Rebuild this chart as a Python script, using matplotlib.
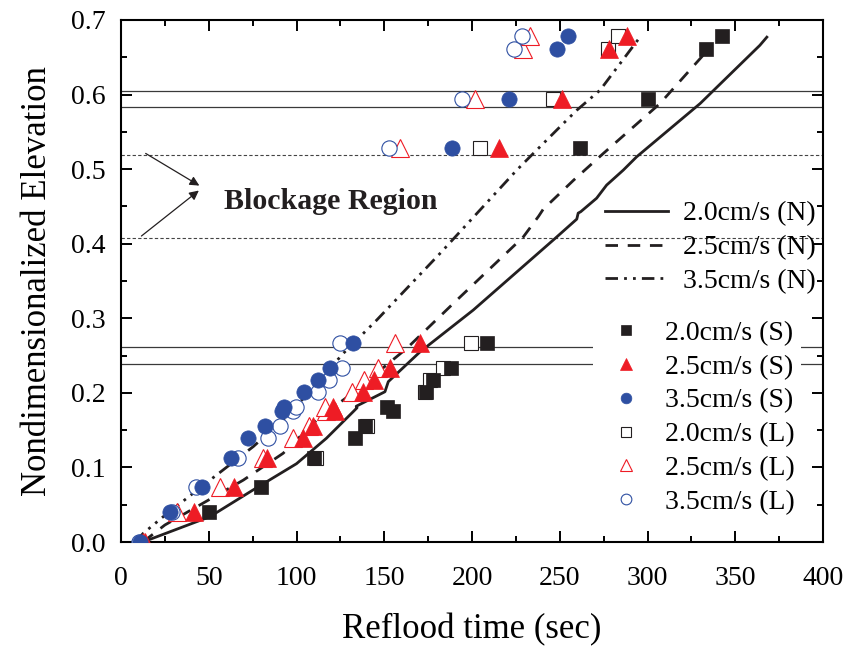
import matplotlib
matplotlib.use("Agg")
import matplotlib.pyplot as plt
from matplotlib.ticker import MultipleLocator

plt.rcParams['font.family'] = ['Liberation Serif', 'DejaVu Serif']
plt.rcParams['mathtext.fontset'] = 'stix'

# ---------------- data ----------------
# calculated curves (N)
n20_t = [12.5, 50.7, 75.4, 100, 117, 132.4, 134.5, 134.0, 150.4, 152.3, 170.4, 200.7, 247.3, 259.7, 260.5, 262.0, 271, 276.7, 286.2, 293.8, 330, 364, 368]
n20_y = [0.0, 0.034, 0.070, 0.105, 0.139, 0.175, 0.180, 0.182, 0.2015, 0.215, 0.255, 0.311, 0.407, 0.433, 0.441, 0.443, 0.461, 0.4786, 0.4987, 0.5165, 0.588, 0.666, 0.677]

n25_t = [12.5, 25, 69.7, 92.4, 113.4, 130.5, 162.8, 189.4, 229.2, 238.0, 240.5, 257.8, 274.8, 307.1, 331.8, 334]
n25_y = [0.0, 0.0228, 0.083, 0.119, 0.168, 0.197, 0.2596, 0.32, 0.409, 0.437, 0.446, 0.485, 0.521, 0.588, 0.653, 0.665]

n35_t = [8.0, 12.7, 24.1, 50.7, 75.4, 96.3, 126.7, 145.7, 181.8, 225.5, 233, 250.1, 259.7, 273, 295.7]
n35_y = [0.0, 0.0117, 0.034, 0.083, 0.128, 0.1725, 0.253, 0.2976, 0.387, 0.4987, 0.5165, 0.5567, 0.579, 0.606, 0.677]

# measurements
s20_t = [50.3, 79.8, 110, 133.3, 139, 154.8, 151.4, 173.6, 177.6, 187.9, 208.7, 261.5, 300.1, 333.2, 342.6]
s20_y = [0.040, 0.074, 0.112, 0.140, 0.156, 0.176, 0.181, 0.201, 0.217, 0.234, 0.267, 0.528, 0.594, 0.661, 0.679]

s25_t = [13.7, 41.6, 64.6, 83, 103.9, 109.2, 122.0, 121.0, 138, 144.3, 153.3, 170.4, 215.6, 251.1, 278.2, 288.1]
s25_y = [0.0, 0.040, 0.074, 0.112, 0.140, 0.156, 0.176, 0.181, 0.201, 0.217, 0.234, 0.267, 0.528, 0.594, 0.661, 0.679]

s35_t = [10.8, 27.9, 46, 62.7, 72.5, 82, 91.5, 93.1, 104.5, 112.1, 119.1, 132.4, 188.4, 221.3, 248.4, 254.9]
s35_y = [0.0, 0.040, 0.074, 0.112, 0.140, 0.156, 0.176, 0.181, 0.201, 0.217, 0.234, 0.267, 0.528, 0.594, 0.661, 0.679]

l20_t = [111.2, 140.2, 173.2, 176.1, 183.3, 199.4, 204.6, 246.3, 277.7, 283.4]
l20_y = [0.112, 0.156, 0.201, 0.217, 0.234, 0.267, 0.528, 0.594, 0.661, 0.679]

l25_t = [12.5, 31.7, 56.4, 81, 98.2, 107, 117, 116, 131.4, 138.7, 146.2, 156.1, 159, 201.7, 228.9, 233]
l25_y = [0.0, 0.040, 0.074, 0.112, 0.140, 0.156, 0.176, 0.181, 0.201, 0.217, 0.234, 0.267, 0.528, 0.594, 0.661, 0.679]

l35_t = [10.0, 28.9, 42.7, 66.9, 83.6, 90.6, 98.2, 99.7, 112, 118.7, 125.7, 124.8, 152.7, 194.1, 224, 228.7]
l35_y = [0.0, 0.040, 0.074, 0.112, 0.140, 0.156, 0.176, 0.181, 0.201, 0.217, 0.234, 0.267, 0.528, 0.594, 0.661, 0.679]

solid_levels = [0.605, 0.583, 0.261, 0.239]
dashed_levels = [0.519, 0.408]

# ---------------- figure ----------------
fig = plt.figure(figsize=(8.54, 6.47), dpi=100)
ax = fig.add_axes([121/854, 1-542/647, (823-121)/854, (542-20)/647])

for lv in solid_levels:
    ax.axhline(lv, color='#3a3a3a', lw=0.9, zorder=1)
for lv in dashed_levels:
    ax.axhline(lv, color='#444444', lw=0.8, ls=(0, (3, 2)), zorder=1)

BLACK = '#231f20'
RED = '#ee1c25'
BLUE = '#2e4fa2'

l1, = ax.plot(n20_t, n20_y, color=BLACK, lw=2.0, zorder=3, label='2.0cm/s (N)')
l2, = ax.plot(n25_t, n25_y, color=BLACK, lw=2.0, dashes=(4.5, 3.5), zorder=3, label='2.5cm/s (N)')
l3, = ax.plot(n35_t, n35_y, color=BLACK, lw=2.0, dashes=(4.5, 2.2, 1, 2.2, 1, 2.2), zorder=3, label='3.5cm/s (N)')

ms = 10.5
p4, = ax.plot(l20_t, l20_y, ls='none', marker='s', ms=ms, mfc='white', mec=BLACK, mew=0.8, zorder=4, label='2.0cm/s (L)')
p5, = ax.plot(l25_t, l25_y, ls='none', marker='^', ms=ms+2, mfc='white', mec=RED, mew=0.8, zorder=4, label='2.5cm/s (L)')
p6, = ax.plot(l35_t, l35_y, ls='none', marker='o', ms=ms+0.5, mfc='white', mec=BLUE, mew=0.8, zorder=4, label='3.5cm/s (L)')
p1, = ax.plot(s20_t, s20_y, ls='none', marker='s', ms=ms, mfc=BLACK, mec=BLACK, mew=0.5, zorder=5, label='2.0cm/s (S)')
p2, = ax.plot(s25_t, s25_y, ls='none', marker='^', ms=ms+2, mfc=RED, mec=RED, mew=0.5, zorder=5, label='2.5cm/s (S)')
p3, = ax.plot(s35_t, s35_y, ls='none', marker='o', ms=ms+0.5, mfc=BLUE, mec=BLUE, mew=0.5, zorder=5, label='3.5cm/s (S)')

ax.set_xlim(0, 400)
ax.set_ylim(0, 0.7)
ax.xaxis.set_major_locator(MultipleLocator(50))
ax.xaxis.set_minor_locator(MultipleLocator(25))
ax.yaxis.set_major_locator(MultipleLocator(0.1))
ax.yaxis.set_minor_locator(MultipleLocator(0.05))
ax.yaxis.set_major_formatter(matplotlib.ticker.FormatStrFormatter('%.1f'))
ax.tick_params(which='both', direction='in', top=True, right=True, width=1.4, labelsize=20)
ax.tick_params(which='major', length=8)
ax.tick_params(which='minor', length=4.5)
ax.tick_params(axis='x', pad=17)
ax.tick_params(axis='y', pad=11)
for sp in ax.spines.values():
    sp.set_linewidth(1.5)

ax.set_xlabel('Reflood time (sec)', fontsize=25, labelpad=16)
ax.set_ylabel('Nondimensionalized Elevation', fontsize=25, labelpad=12)

ax.text(58.7, 0.457, 'Blockage Region', fontsize=21.5, fontweight='bold', va='center', ha='left', color=BLACK)
ax.annotate('', xy=(46, 0.476), xytext=(12.7, 0.523),
            arrowprops=dict(arrowstyle='-|>', color=BLACK, lw=0.9, mutation_scale=14))
ax.annotate('', xy=(45.6, 0.4736), xytext=(10.4, 0.408),
            arrowprops=dict(arrowstyle='-|>', color=BLACK, lw=0.9, mutation_scale=14))

leg1 = ax.legend(handles=[l1, l2, l3], loc='upper left', bbox_to_anchor=((605-121)/702, (542-201)/522),
                 frameon=False, fontsize=20, handlelength=2.27, labelspacing=0.3, handletextpad=0.55,
                 borderaxespad=0, borderpad=0)
ax.add_artist(leg1)
leg2 = ax.legend(handles=[p1, p2, p3, p4, p5, p6], loc='upper left',
                 bbox_to_anchor=((593-121)/702, (542-315)/522),
                 frameon=True, facecolor='white', edgecolor='none', framealpha=1, fancybox=False,
                 fontsize=20, handlelength=2.0, labelspacing=0.3, handletextpad=0.4, markerscale=0.7,
                 borderaxespad=0, borderpad=0.2)

fig.savefig('out.png', dpi=100)
